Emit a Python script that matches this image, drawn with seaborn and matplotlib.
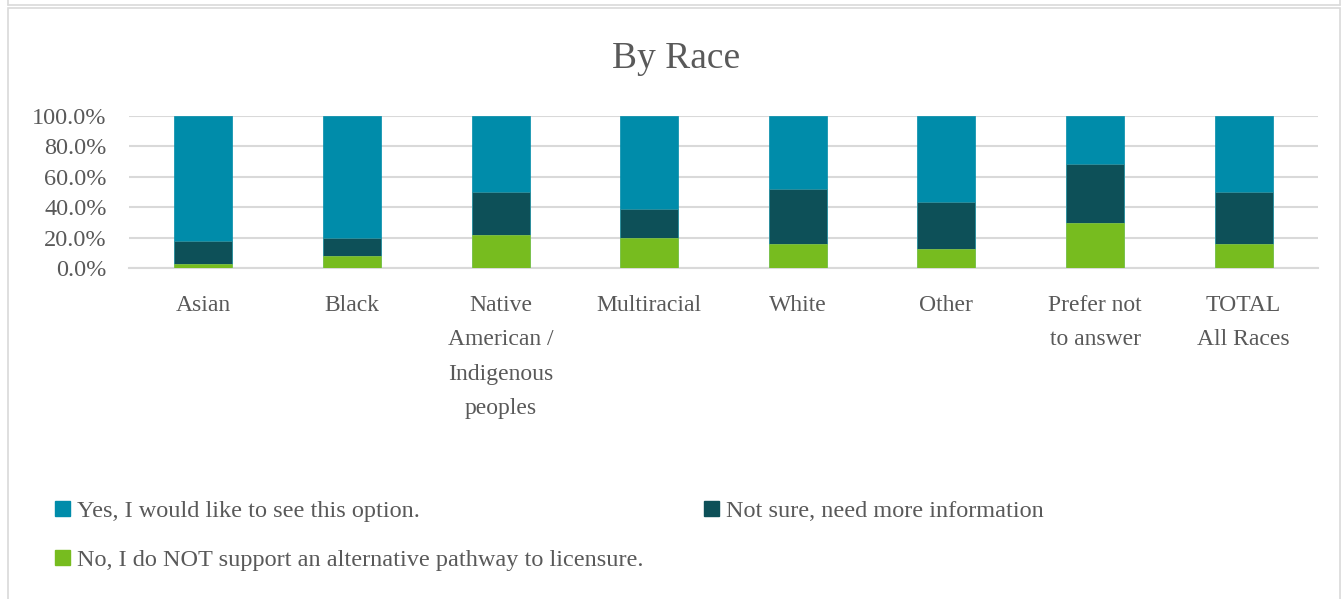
import matplotlib
matplotlib.use("Agg")
import matplotlib.pyplot as plt
import seaborn as sns
import numpy as np
import pandas as pd
from matplotlib.patches import Patch, Rectangle
from matplotlib.lines import Line2D
from matplotlib.ticker import FuncFormatter

categories = ["Asian", "Black", "Native\nAmerican /\nIndigenous\npeoples", "Multiracial",
              "White", "Other", "Prefer not\nto answer", "TOTAL\nAll Races"]
no_support = [2.6, 7.9, 21.8, 20.0, 15.6, 12.3, 29.5, 15.8]
not_sure = [15.4, 11.9, 27.9, 18.5, 36.7, 31.4, 38.6, 33.9]
yes_option = [82.0, 80.2, 50.3, 61.5, 47.7, 56.3, 31.9, 50.3]

series_names = ["Yes, I would like to see this option.",
                "Not sure, need more information",
                "No, I do NOT support an alternative pathway to licensure."]
c_yes = "#008CAA"
c_unsure = "#0D5058"
c_no = "#77BC1F"
text_c = "#595959"
grid_c = "#D9D9D9"

sns.set_theme(style="white")
plt.rcParams['font.family'] = ['Liberation Serif', 'DejaVu Serif']

df = pd.DataFrame({"cat": categories,
                   "no": np.array(no_support) / 100,
                   "unsure": np.array(not_sure) / 100,
                   "yes": np.array(yes_option) / 100})
df["top_unsure"] = df["no"] + df["unsure"]
df["top_yes"] = df["top_unsure"] + df["yes"]

W, H = 1343, 599
fig = plt.figure(figsize=(W / 100, H / 100), dpi=100)
ax = fig.add_axes([129 / W, 1 - 268 / H, (1318 - 129) / W, (268 - 116) / H])

bw = 0.39
sns.barplot(data=df, x="cat", y="top_yes", color=c_yes, width=bw, ax=ax,
            saturation=1, edgecolor=c_yes, linewidth=0.5, zorder=3)
sns.barplot(data=df, x="cat", y="top_unsure", color=c_unsure, width=bw, ax=ax,
            saturation=1, edgecolor="#3a9aa8", linewidth=0.5, zorder=4)
sns.barplot(data=df, x="cat", y="no", color=c_no, width=bw, ax=ax,
            saturation=1, edgecolor="#8fd04a", linewidth=0.5, zorder=5)

ax.set_ylim(0, 1.0)
ax.set_xlim(-0.5, len(categories) - 0.5)
ax.set_yticks(np.arange(0, 1.01, 0.2))
ax.yaxis.set_major_formatter(FuncFormatter(lambda v, p: f"{v * 100:.1f}%"))
ax.grid(axis="y", color=grid_c, linewidth=1.5, zorder=0)
ax.set_axisbelow(True)
for s in ["top", "right", "left"]:
    ax.spines[s].set_visible(False)
ax.spines["bottom"].set_color(grid_c)
ax.spines["bottom"].set_linewidth(1.5)
ax.set_xlabel("")
ax.set_ylabel("")
ax.tick_params(axis="y", length=0, pad=16, labelsize=17.5, labelcolor=text_c)
ax.tick_params(axis="x", length=0, pad=19.5, labelsize=17, labelcolor=text_c)
for t in ax.get_xticklabels():
    t.set_linespacing(1.83)
    t.set_horizontalalignment("center")

fig.text(676 / W, 1 - 59 / H, "By Race", ha="center", va="center",
         fontsize=27, color=text_c)

def sq(c):
    return Patch(facecolor=c, edgecolor=c)

leg_kw = dict(loc="upper left", frameon=False, fontsize=17.5, labelcolor=text_c,
              handlelength=0.6, handleheight=0.6, handletextpad=0.3,
              borderaxespad=0, borderpad=0)
leg1 = fig.legend([sq(c_yes), sq(c_no)], [series_names[0], series_names[2]],
                  bbox_to_anchor=(55 / W, 1 - 501 / H), labelspacing=1.12, **leg_kw)
leg2 = fig.legend([sq(c_unsure)], [series_names[1]],
                  bbox_to_anchor=(704 / W, 1 - 501 / H), **leg_kw)

# chart frame
fig.add_artist(Rectangle((8 / W, -0.05), (1340 - 8) / W, 1 - 8 / H + 0.05,
                         transform=fig.transFigure, fill=False,
                         edgecolor=grid_c, linewidth=1.2))
fig.add_artist(Line2D([8 / W, 1340 / W], [1 - 5 / H, 1 - 5 / H],
                      transform=fig.transFigure, color=grid_c, linewidth=1.2))
fig.add_artist(Line2D([8 / W, 8 / W], [1 - 5 / H, 1.0],
                      transform=fig.transFigure, color=grid_c, linewidth=1.2))
fig.add_artist(Line2D([1340 / W, 1340 / W], [1 - 5 / H, 1.0],
                      transform=fig.transFigure, color=grid_c, linewidth=1.2))

fig.savefig("out.png", dpi=100)
